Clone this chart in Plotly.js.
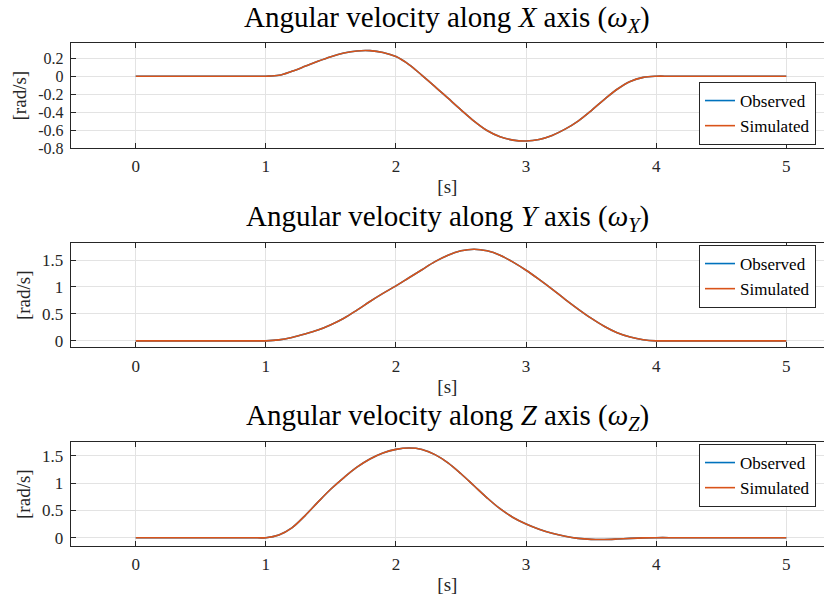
<!DOCTYPE html>
<html>
<head>
<meta charset="utf-8">
<script src="https://cdn.plot.ly/plotly-3.0.1.min.js"></script>
<style>html,body{margin:0;padding:0;background:#fff;}#chart{width:824px;height:599px;}</style>
</head>
<body>
<div id="chart"></div>
<script>
// time samples [s]
const time = [0,0.1,0.2,0.3,0.4,0.5,0.6,0.7,0.8,0.9,1.0,1.1,1.2,1.3,1.4,1.5,1.6,1.7,1.8,1.9,2.0,2.1,2.2,2.3,2.4,2.5,2.6,2.7,2.8,2.9,3.0,3.1,3.2,3.3,3.4,3.5,3.6,3.7,3.8,3.9,4.0,4.1,4.2,4.3,4.4,4.5,4.6,4.7,4.8,4.9,5.0];

// angular velocity around X [rad/s]
const omegaXObserved = [0,0,0,0,0,0,0,0,0,0,0,0.010,0.055,0.11,0.167,0.218,0.258,0.282,0.285,0.265,0.219,0.13,0.01,-0.115,-0.245,-0.375,-0.50,-0.605,-0.675,-0.712,-0.722,-0.705,-0.66,-0.59,-0.50,-0.385,-0.26,-0.145,-0.058,-0.013,0,0,0,0,0,0,0,0,0,0,0];
const omegaXSimulated = [0,0,0,0,0,0,0,0,0,0,0,0.010,0.055,0.11,0.167,0.218,0.258,0.282,0.285,0.265,0.219,0.13,0.01,-0.115,-0.245,-0.375,-0.50,-0.605,-0.675,-0.712,-0.722,-0.705,-0.66,-0.59,-0.50,-0.385,-0.26,-0.145,-0.058,-0.013,0,0,0,0,0,0,0,0,0,0,0];

// angular velocity around Y [rad/s]
const omegaYObserved = [0,0,0,0,0,0,0,0,0,0,0,0.018,0.062,0.125,0.2,0.3,0.42,0.57,0.73,0.88,1.02,1.17,1.32,1.47,1.59,1.67,1.70,1.67,1.59,1.46,1.31,1.14,0.96,0.77,0.59,0.42,0.27,0.15,0.07,0.02,0,0,0,0,0,0,0,0,0,0,0];
const omegaYSimulated = [0,0,0,0,0,0,0,0,0,0,0,0.018,0.062,0.125,0.2,0.3,0.42,0.57,0.73,0.88,1.02,1.17,1.32,1.47,1.59,1.67,1.70,1.67,1.59,1.46,1.31,1.14,0.96,0.77,0.59,0.42,0.27,0.15,0.07,0.02,0,0,0,0,0,0,0,0,0,0,0];

// angular velocity around Z [rad/s]
const omegaZObserved = [0,0,0,0,0,0,0,0,0,0,0,0.05,0.18,0.40,0.65,0.89,1.10,1.29,1.44,1.55,1.615,1.64,1.615,1.52,1.37,1.17,0.95,0.73,0.53,0.37,0.25,0.155,0.08,0.025,-0.012,-0.03,-0.033,-0.025,-0.013,-0.004,0,0,0,0,0,0,0,0,0,0,0];
const omegaZSimulated = [0,0,0,0,0,0,0,0,0,0,0,0.05,0.18,0.40,0.65,0.89,1.10,1.29,1.44,1.55,1.615,1.64,1.615,1.52,1.37,1.17,0.95,0.73,0.53,0.37,0.25,0.155,0.08,0.025,-0.012,-0.03,-0.033,-0.025,-0.013,-0.004,0,0,0,0,0,0,0,0,0,0,0];

// tick labels
const xTickVals = [0,1,2,3,4,5];
const xTickText = ['0','1','2','3','4','5'];
const yTickValsX = [0.2,0,-0.2,-0.4,-0.6,-0.8];
const yTickTextX = ['0.2','0','-0.2','-0.4','-0.6','-0.8'];
const yTickValsYZ = [0,0.5,1,1.5];
const yTickTextYZ = ['0','0.5','1','1.5'];

const seriesNames = ['Observed','Simulated'];
const titles = [
  'Angular velocity along <i>X</i> axis (<i>ω</i><sub><i>X</i></sub>)',
  'Angular velocity along <i>Y</i> axis (<i>ω</i><sub><i>Y</i></sub>)',
  'Angular velocity along <i>Z</i> axis (<i>ω</i><sub><i>Z</i></sub>)'
];

const BLUE = '#0072BD', ORANGE = '#D95319';
const FONT = 'Liberation Serif';
const W = 824, H = 599;

function mk(y, name, color, xa, ya, lg) {
  return {x: time, y: y, type: 'scatter', mode: 'lines', name: name,
    line: {color: color, width: 1.6, shape: 'spline', smoothing: 1},
    xaxis: xa, yaxis: ya, legend: lg, hoverinfo: 'skip'};
}
const data = [
  mk(omegaXObserved, seriesNames[0], BLUE, 'x', 'y', 'legend'),
  mk(omegaXSimulated, seriesNames[1], ORANGE, 'x', 'y', 'legend'),
  mk(omegaYObserved, seriesNames[0], BLUE, 'x2', 'y2', 'legend2'),
  mk(omegaYSimulated, seriesNames[1], ORANGE, 'x2', 'y2', 'legend2'),
  mk(omegaZObserved, seriesNames[0], BLUE, 'x3', 'y3', 'legend3'),
  mk(omegaZSimulated, seriesNames[1], ORANGE, 'x3', 'y3', 'legend3')
];

const AX = '#262626', GRID = '#e3e3e3';
function xax(anchor) {
  return {domain: [70.7 / W, 1], anchor: anchor, range: [-0.5, 5.29],
    tickmode: 'array', tickvals: xTickVals, ticktext: xTickText,
    ticks: 'inside', ticklen: 5, tickwidth: 1, tickcolor: AX,
    showline: true, linecolor: AX, linewidth: 1, mirror: 'ticks',
    showgrid: true, gridcolor: GRID, gridwidth: 1, zeroline: false,
    ticklabelstandoff: 3, tickfont: {family: FONT, size: 17, color: AX},
    title: {text: '[s]', font: {family: FONT, size: 19, color: AX}, standoff: 4},
    automargin: false, fixedrange: true};
}
function yax(anchor, top, bottom, range, vals, text, fs) {
  return {domain: [1 - bottom / H, 1 - top / H], anchor: anchor, range: range,
    tickmode: 'array', tickvals: vals, ticktext: text,
    ticks: 'inside', ticklen: 5, tickwidth: 1, tickcolor: AX,
    showline: true, linecolor: AX, linewidth: 1, mirror: false,
    showgrid: true, gridcolor: GRID, gridwidth: 1, zeroline: false,
    ticklabelstandoff: 3, tickfont: {family: FONT, size: fs, color: AX},
    title: {text: '[rad/s]', font: {family: FONT, size: 19, color: AX}, standoff: 6},
    automargin: false, fixedrange: true};
}
function lgd(y, yanchor) {
  return {x: 816 / W, xanchor: 'right', y: y, yanchor: yanchor,
    bgcolor: '#ffffff', bordercolor: AX, borderwidth: 1,
    font: {family: FONT, size: 17, color: '#000'}, itemwidth: 30, tracegroupgap: 0};
}
const cx = (70.7 + 824) / 2 / W;
function ttl(text, yc) {
  return {text: text, xref: 'paper', yref: 'paper', x: cx, y: 1 - yc / H,
    xanchor: 'center', yanchor: 'middle', showarrow: false,
    font: {family: FONT, size: 29, color: '#000'}};
}

const layout = {
  width: W, height: H,
  margin: {l: 0, r: 0, t: 0, b: 0},
  paper_bgcolor: '#ffffff', plot_bgcolor: '#ffffff',
  font: {family: FONT, size: 17, color: AX},
  xaxis: xax('y'), xaxis2: xax('y2'), xaxis3: xax('y3'),
  yaxis: yax('x', 43.3, 148, [-0.8, 0.367], yTickValsX, yTickTextX, 16),
  yaxis2: yax('x2', 243.3, 347.3, [-0.12, 1.81], yTickValsYZ, yTickTextYZ, 17),
  yaxis3: yax('x3', 442.3, 546, [-0.152, 1.745], yTickValsYZ, yTickTextYZ, 17),
  legend: lgd(1 - 145 / H, 'bottom'),
  legend2: lgd(1 - 245 / H, 'top'),
  legend3: lgd(1 - 444 / H, 'top'),
  annotations: [ttl(titles[0], 19), ttl(titles[1], 218), ttl(titles[2], 417)],
  showlegend: true
};

Plotly.newPlot('chart', data, layout, {staticPlot: true, displayModeBar: false});
</script>
</body>
</html>
